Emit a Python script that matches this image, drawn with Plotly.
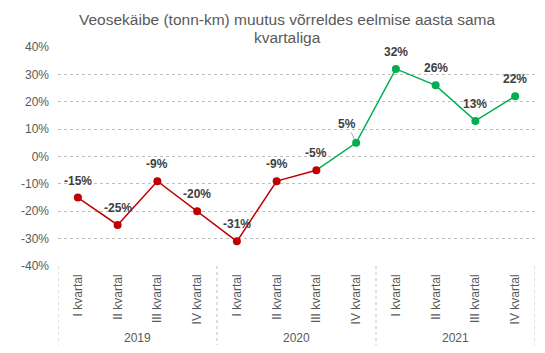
import plotly.graph_objects as go

quarters = ["I kvartal", "II kvartal", "III kvartal", "IV kvartal"]
years = ["2019", "2020", "2021"]
values = [-15, -25, -9, -20, -31, -9, -5, 5, 32, 26, 13, 22]
y_ticks = [-40, -30, -20, -10, 0, 10, 20, 30, 40]
title_lines = ["Veosekäibe (tonn-km) muutus võrreldes eelmise aasta sama", "kvartaliga"]

RED = "#C00000"
GREEN = "#00B050"
GRAY = "#595959"
GRID = "#BFBFBF"
FONT = "Liberation Sans, Arial, sans-serif"

n = len(values)
xs = list(range(n))
cat_labels = [q for _ in years for q in quarters]

first_pos = next(i for i, v in enumerate(values) if v > 0)

fig = go.Figure()
fig.add_trace(go.Scatter(x=xs[:first_pos], y=values[:first_pos], mode="lines",
                         line=dict(color=RED, width=1.5), hoverinfo="skip"))
fig.add_trace(go.Scatter(x=xs[first_pos - 1:], y=values[first_pos - 1:], mode="lines",
                         line=dict(color=GREEN, width=1.5), hoverinfo="skip"))
fig.add_trace(go.Scatter(x=xs, y=values, mode="markers",
                         marker=dict(size=8, color=[RED if v < 0 else GREEN for v in values])))

LBL = dict(family=FONT, size=12, color="#404040", weight="bold")
annotations = []
for i, v in enumerate(values):
    if i == first_pos:
        annotations.append(dict(x=i, y=v, xref="x", yref="y", text=f"{v}%",
                                showarrow=True, arrowhead=0, arrowwidth=1, arrowcolor="#A6A6A6",
                                ax=-9, ay=-19, standoff=4, font=LBL))
    else:
        annotations.append(dict(x=i, y=v, xref="x", yref="y", text=f"{v}%",
                                showarrow=False, yshift=17, font=LBL))

plot_h = 266 - 47
for j, yr in enumerate(years):
    annotations.append(dict(x=j * 4 + 1.5, y=-(338 - 266) / plot_h, xref="x", yref="paper",
                            text=yr, showarrow=False, yanchor="middle",
                            font=dict(family=FONT, size=12, color=GRAY)))

# title, two lines placed separately
for line, ypix in zip(title_lines, [19, 37.5]):
    annotations.append(dict(x=262 / 545, y=1 + (47 - ypix) / plot_h, xref="paper", yref="paper",
                            xanchor="center", yanchor="middle", showarrow=False,
                            text=line, font=dict(family=FONT, size=15.5, color=GRAY)))

shapes = []
for j in range(len(years) + 1):
    shapes.append(dict(type="line", xref="x", yref="paper", x0=j * 4 - 0.5, x1=j * 4 - 0.5,
                       y0=0, y1=-(345 - 266) / plot_h,
                       line=dict(color=GRID, width=1, dash="dot")))

fig.update_layout(
    width=545, height=353,
    margin=dict(l=58, r=10, t=47, b=87),
    paper_bgcolor="white", plot_bgcolor="white",
    showlegend=False,
    xaxis=dict(range=[-0.5, n - 0.5], tickmode="array", tickvals=xs, ticktext=cat_labels,
               tickangle=-90, showgrid=False, zeroline=False, showline=False,
               ticklabelstandoff=5,
               tickfont=dict(family=FONT, size=12, color=GRAY)),
    yaxis=dict(range=[-40, 40], tickmode="array", tickvals=y_ticks,
               ticktext=[f"{t}%" for t in y_ticks],
               showgrid=True, gridcolor=GRID, griddash="dot", gridwidth=1,
               zeroline=False, showline=False, ticklabelstandoff=8,
               tickfont=dict(family=FONT, size=12, color=GRAY)),
    annotations=annotations, shapes=shapes,
)
fig.update_xaxes(automargin=False)
fig.update_yaxes(automargin=False)

fig.write_html("out.html")
